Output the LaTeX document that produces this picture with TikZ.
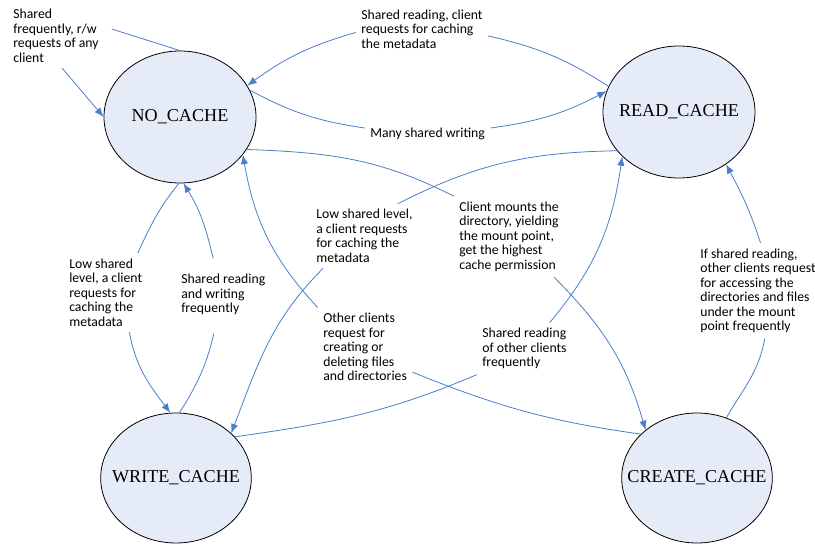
\documentclass[tikz,border=0pt]{standalone}
\usepackage{fontspec}
\setmainfont{Liberation Serif}
\newfontfamily\calib{Carlito}
\usetikzlibrary{shapes.geometric, arrows.meta}
\definecolor{stateblue}{HTML}{E6ECF7}
\definecolor{edgeblue}{HTML}{4A7EC8}

\begin{document}
\begin{tikzpicture}[x = 0.75pt, y = 0.75pt,
    state/.style = {ellipse, draw = black, line width = 0.6pt, fill = stateblue,
                    minimum width = 114pt, minimum height = 99pt, inner sep = 0pt},
    statename/.style = {font = \fontsize{13.6}{16}\selectfont},
    lbl/.style = {align = left, inner sep = 4pt, anchor = west,
                  font = \calib\fontsize{10.3}{10.9}\selectfont},
    flow/.style = {color = edgeblue, line width = 0.6pt},
    arr/.style = {-{Latex[length = 7pt, width = 5.5pt]}}]
  \useasboundingbox (0,0) rectangle (815,544);

  % states
  \node[state] (nc) at (180,427) [label = {[statename]center:NO\_CACHE}] {};
  \node[state] (rc) at (679,432) [label = {[statename]center:READ\_CACHE}] {};
  \node[state, minimum width = 113pt, minimum height = 97.5pt] (wc) at (176,66)
       [label = {[statename]center:WRITE\_CACHE}] {};
  \node[state, minimum width = 113pt, minimum height = 97.5pt] (cc) at (697,66)
       [label = {[statename]center:CREATE\_CACHE}] {};

  % conditions
  \node[lbl] (l1)  at (7.7,508)   {Shared\\frequently, r/w\\requests of any\\client};
  \node[lbl] (l2)  at (355.7,515) {Shared reading, client\\requests for caching\\the metadata};
  \node[lbl] (l3)  at (364.7,410.5) {Many shared writing};
  \node[lbl] (l4)  at (453.7,307.3) {Client mounts the\\directory, yielding\\the mount point,\\get the highest\\cache permission};
  \node[lbl] (l5)  at (317.7,197) {Other clients\\request for\\creating or\\deleting files\\and directories};
  \node[lbl] (l6)  at (310.7,308) {Low shared level,\\a client requests\\for caching the\\metadata};
  \node[lbl] (l7)  at (476.7,195.3) {Shared reading\\of other clients\\frequently};
  \node[lbl] (l8)  at (694.7,253.3) {If shared reading,\\other clients request\\for accessing the\\directories and files\\under the mount\\point frequently};
  \node[lbl] (l9)  at (63.7,251.3) {Low shared\\level, a client\\requests for\\caching the\\metadata};
  \node[lbl] (l10) at (175.7,249.3) {Shared reading\\and writing\\frequently};

  % NO_CACHE to itself
  \path[flow] (nc.90) edge[shorten >= 6pt] (l1.11)
              (l1.-79) edge[arr] (nc.180);
  % NO_CACHE <-> READ_CACHE
  \path[flow] (rc.160) edge[bend right = 10] (l2.-6)
              (l2.183) edge[arr, bend right = 10] (nc.25)
              (nc.21) edge[bend right = 10] (l3.175)
              (l3.5) edge[arr, bend right = 10] (rc.164);
  % NO_CACHE <-> CREATE_CACHE
  \path[flow] (nc.-26) edge[out = -2, in = 153] (l4.north west)
              (l4.-42) edge[arr, out = -45, in = 106] (cc.137)
              (cc.142) edge[out = 172, in = -22] (l5.-28)
              (l5.north west) edge[arr, out = 133, in = -80] (nc.-31);
  % READ_CACHE <-> WRITE_CACHE
  \path[flow] (rc.212) edge[out = 181, in = 27] (l6.44)
              (l6.218) edge[arr, out = 225, in = 69] (wc.39)
              (wc.35) edge[out = 8, in = -157] (l7.south west)
              (l7.46) edge[arr, out = 50, in = -98] (rc.218);
  % CREATE_CACHE -> READ_CACHE
  \path[flow] (cc.64) edge[out = 60, in = -100] (l8.-82)
              (l8.87) edge[arr, out = 108, in = -62] (rc.-48);
  % NO_CACHE <-> WRITE_CACHE
  \path[flow] (nc.-91) edge[out = 231, in = 65] (l9.51)
              (l9.-59) edge[arr, out = -80, in = 127] (wc.95)
              (wc.87) edge[out = 57, in = -103, shorten >= 10pt] (l10.-104)
              (l10.106) edge[arr, out = 104, in = -58, shorten <= 8pt] (nc.-87);
\end{tikzpicture}
\end{document}
